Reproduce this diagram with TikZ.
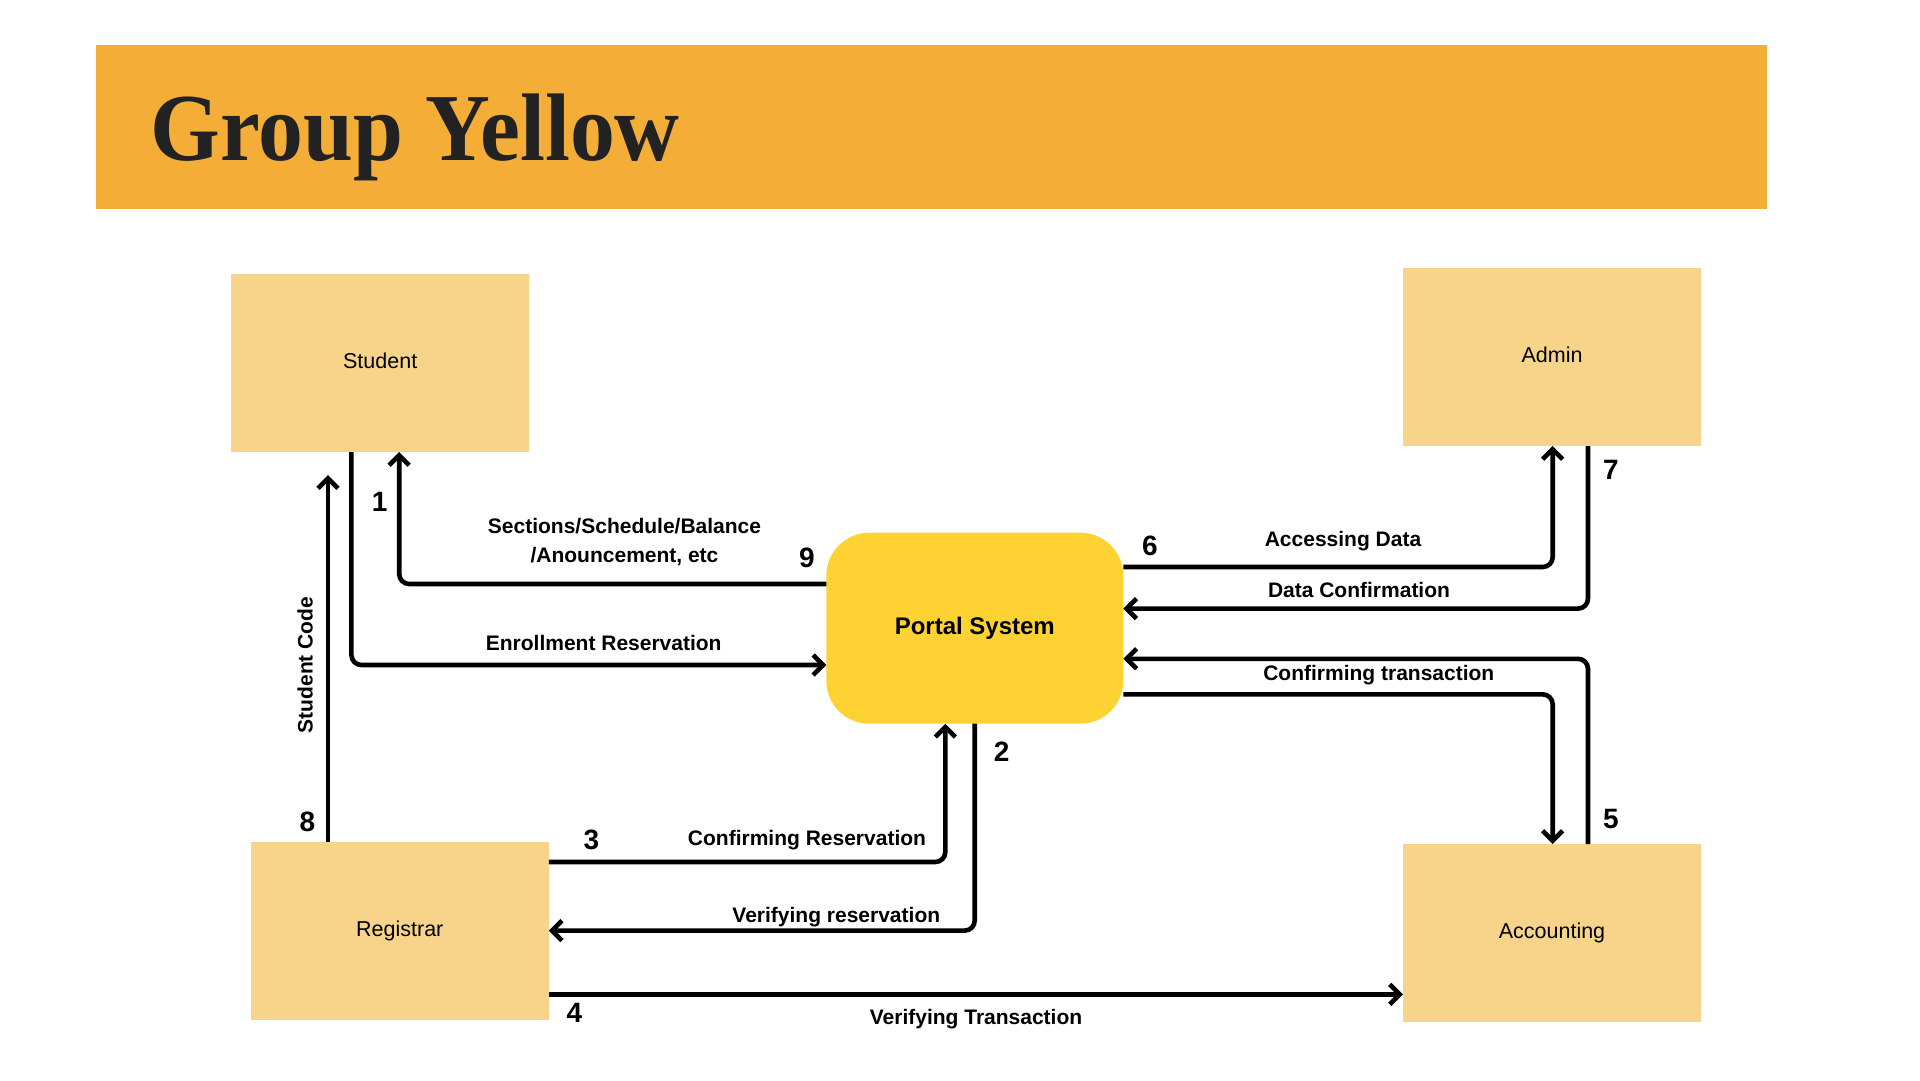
\documentclass[tikz,border=0pt]{standalone}
\usepackage{fontspec}
\setmainfont{Liberation Sans}
\newfontfamily\titlefont{Liberation Serif}
\usetikzlibrary{arrows.meta}

\definecolor{banner}{HTML}{F4AE37}
\definecolor{entity}{HTML}{F8D38A}
\definecolor{process}{HTML}{FDD232}
\definecolor{ink}{HTML}{222222}

\begin{document}
\begin{tikzpicture}[x=1pt,y=-1pt,
  entitybox/.style={fill=entity, draw=none, inner sep=0pt, outer sep=0pt,
    minimum width=298pt, minimum height=178pt,
    font=\fontsize{21.5}{26}\selectfont},
  processbox/.style={fill=process, draw=none, rounded corners=43pt,
    inner sep=0pt, outer sep=0pt, minimum width=297pt, minimum height=191pt,
    font=\bfseries\fontsize{24}{28}\selectfont},
  flow/.style={line width=4.6pt, line cap=butt, rounded corners=10pt,
    -{Straight Barb[length=10pt,width=20pt]}},
  lbl/.style={font=\bfseries\fontsize{21}{29}\selectfont, inner sep=0pt, align=center},
  num/.style={font=\bfseries\fontsize{28}{30}\selectfont, inner sep=0pt}
]
% canvas
\fill[white] (0,0) rectangle (1920,1080);
\useasboundingbox (0,0) rectangle (1920,1080);

% header banner
\fill[banner] (96,45) rectangle (1767,209);
\node[anchor=base west, inner sep=0pt, text=ink,
  font=\titlefont\bfseries\fontsize{96}{96}\selectfont] (title) at (150,160)
  {\scalebox{0.935}[1]{Group Yellow}};

% entities and process
\node[entitybox, text depth=5pt] (student) at (380.2,363) {Student};
\node[entitybox, text depth=5pt] (admin) at (1552,357) {Admin};
\node[entitybox, text depth=5pt] (registrar) at (399.8,931) {Registrar};
\node[entitybox, text depth=5pt] (accounting) at (1552,933) {Accounting};
\node[processbox] (portal) at (974.8,628.2) {Portal System};

\coordinate (sctip) at (328,475);

% data flows
\draw[flow] (351.4,0 |- student.south) |- (portal.west |- 0,665);
\draw[flow] (portal.west |- 0,584) -| (399.2,0 |- student.south);
\draw[flow] (portal.east |- 0,567) -| (1552.7,0 |- admin.south);
\draw[flow] (1588,0 |- admin.south) |- (portal.east |- 0,608.6);
\draw[flow] (1588,0 |- accounting.north) |- (portal.east |- 0,658.8);
\draw[flow] (portal.east |- 0,694.3) -| (1552.7,0 |- accounting.north);
\draw[flow] (registrar.east |- 0,862) -| (945.3,0 |- portal.south);
\draw[flow] (974.7,0 |- portal.south) |- (registrar.east |- 0,930.6);
\draw[flow] (registrar.east |- 0,994.3) -- (accounting.west |- 0,994.3);
\draw[flow] (328,0 |- registrar.north) -- (sctip);

% flow labels
\node[lbl] (l-enrol) at (603.7,643) {Enrollment Reservation};
\node[lbl] (l-info) at (624.5,542) {Sections/Schedule/Balance\\/Anouncement, etc};
\node[lbl] (l-access) at (1343,541) {Accessing Data};
\node[lbl] (l-dconf) at (1359,590) {Data Confirmation};
\node[lbl] (l-tconf) at (1378.8,674.7) {Confirming transaction};
\node[lbl] (l-rconf) at (807,840) {Confirming Reservation};
\node[lbl] (l-rver) at (836.3,917) {Verifying reservation};
\node[lbl] (l-tver) at (976,1018.8) {Verifying Transaction};
\node[lbl, rotate=90] (l-code) at (305,665) {Student Code};

% flow numbers
\node[num] (n1) at (379.6,502) {1};
\node[num] (n2) at (1001.6,751.8) {2};
\node[num] (n3) at (591.4,840) {3};
\node[num] (n4) at (574.3,1012.6) {4};
\node[num] (n5) at (1611,819) {5};
\node[num] (n6) at (1150,546) {6};
\node[num] (n7) at (1611,470) {7};
\node[num] (n8) at (307.3,821.6) {8};
\node[num] (n9) at (807,558) {9};
\end{tikzpicture}
\end{document}
